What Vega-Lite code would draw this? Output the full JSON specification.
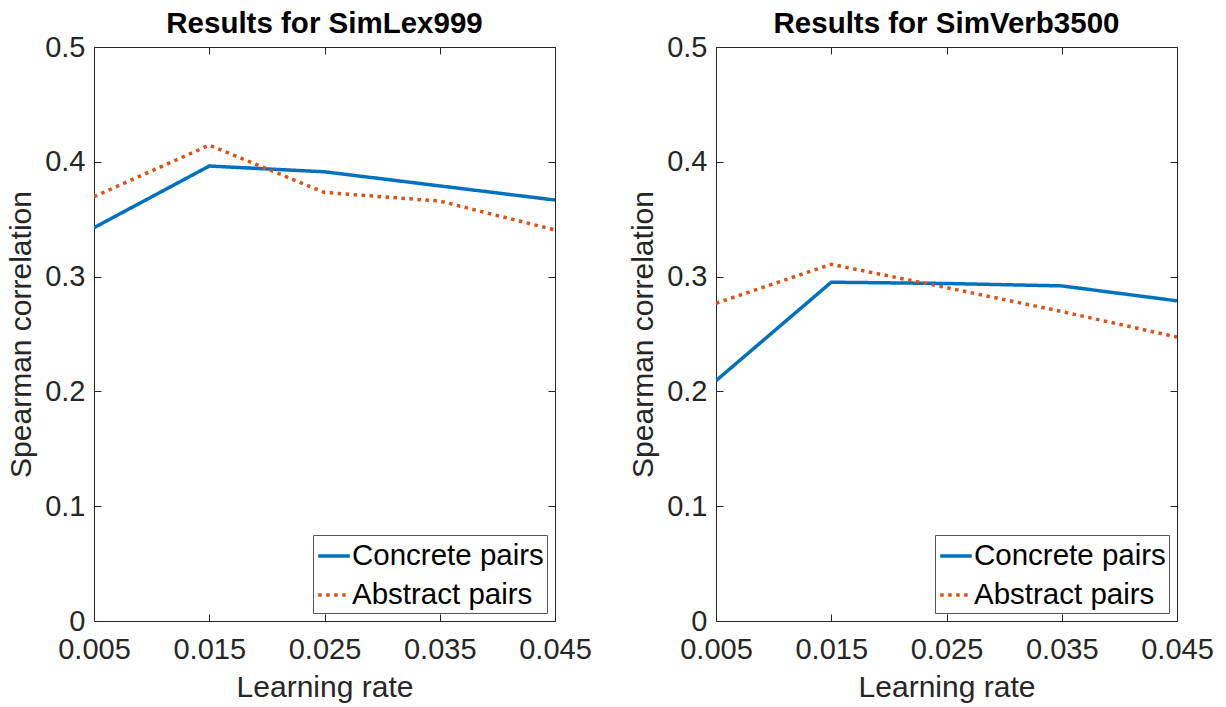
{
  "$schema": "https://vega.github.io/schema/vega-lite/v6.json",
  "padding": {"left": 6, "top": 8, "right": 0, "bottom": 0},
  "background": "white",
  "config": {
    "font": "Liberation Sans",
    "view": {"stroke": "#262626", "strokeWidth": 1},
    "axis": {"grid": false, "domain": false, "tickColor": "#262626", "labelColor": "#262626", "titleColor": "#262626", "labelFont": "Liberation Sans", "titleFont": "Liberation Sans", "labelFontSize": 29, "titleFontSize": 30, "titleFontWeight": "normal", "tickSize": -7},
    "title": {"font": "Liberation Sans", "fontSize": 29.5, "fontWeight": "bold", "color": "black", "offset": -6},
    "legend": {"labelFont": "Liberation Sans"}
  },
  "data": {"values": [
    {"dataset": "SimLex999", "series": "Concrete pairs", "rate": 0.005, "rho": 0.3426},
    {"dataset": "SimLex999", "series": "Concrete pairs", "rate": 0.015, "rho": 0.3963},
    {"dataset": "SimLex999", "series": "Concrete pairs", "rate": 0.025, "rho": 0.3913},
    {"dataset": "SimLex999", "series": "Concrete pairs", "rate": 0.035, "rho": 0.379},
    {"dataset": "SimLex999", "series": "Concrete pairs", "rate": 0.045, "rho": 0.3667},
    {"dataset": "SimLex999", "series": "Abstract pairs", "rate": 0.005, "rho": 0.3696},
    {"dataset": "SimLex999", "series": "Abstract pairs", "rate": 0.015, "rho": 0.4145},
    {"dataset": "SimLex999", "series": "Abstract pairs", "rate": 0.025, "rho": 0.3733},
    {"dataset": "SimLex999", "series": "Abstract pairs", "rate": 0.035, "rho": 0.3658},
    {"dataset": "SimLex999", "series": "Abstract pairs", "rate": 0.045, "rho": 0.3406},
    {"dataset": "SimVerb3500", "series": "Concrete pairs", "rate": 0.005, "rho": 0.2093},
    {"dataset": "SimVerb3500", "series": "Concrete pairs", "rate": 0.015, "rho": 0.2951},
    {"dataset": "SimVerb3500", "series": "Concrete pairs", "rate": 0.025, "rho": 0.294},
    {"dataset": "SimVerb3500", "series": "Concrete pairs", "rate": 0.035, "rho": 0.2919},
    {"dataset": "SimVerb3500", "series": "Concrete pairs", "rate": 0.045, "rho": 0.2789},
    {"dataset": "SimVerb3500", "series": "Abstract pairs", "rate": 0.005, "rho": 0.2768},
    {"dataset": "SimVerb3500", "series": "Abstract pairs", "rate": 0.015, "rho": 0.3107},
    {"dataset": "SimVerb3500", "series": "Abstract pairs", "rate": 0.025, "rho": 0.2904},
    {"dataset": "SimVerb3500", "series": "Abstract pairs", "rate": 0.035, "rho": 0.2696},
    {"dataset": "SimVerb3500", "series": "Abstract pairs", "rate": 0.045, "rho": 0.2473}
  ]},
  "spacing": 36,
  "resolve": {"legend": {"color": "independent", "strokeDash": "independent"}},
  "hconcat": [
    {
      "title": "Results for SimLex999",
      "width": 461,
      "height": 574,
      "transform": [{"filter": "datum.dataset === 'SimLex999'"}],
      "layer": [
        {
          "mark": {"type": "line", "strokeWidth": 3.5, "clip": true},
          "encoding": {
            "x": {"field": "rate", "type": "quantitative", "scale": {"domain": [0.005, 0.045], "nice": false, "zero": false}, "axis": {"title": "Learning rate", "values": [0.005, 0.015, 0.025, 0.035, 0.045], "format": ".3f", "labelPadding": 21, "titlePadding": 8, "labelFlush": false}},
            "y": {"field": "rho", "type": "quantitative", "scale": {"domain": [0, 0.5], "nice": false}, "axis": {"title": "Spearman correlation", "values": [0, 0.1, 0.2, 0.3, 0.4, 0.5], "labelExpr": "datum.value === 0 ? '0' : format(datum.value, '.1f')", "labelPadding": 16, "titlePadding": 8}},
            "color": {"field": "series", "type": "nominal", "scale": {"domain": ["Concrete pairs", "Abstract pairs"], "range": ["#0072BD", "#D95319"]}, "legend": {"title": null, "orient": "bottom-right", "offset": 8, "labelFontSize": 29.5, "labelLimit": 400, "labelColor": "black", "symbolType": "stroke", "symbolSize": 1000, "symbolStrokeWidth": 3.5, "strokeColor": "#555555", "fillColor": "white", "padding": 3, "rowPadding": 6, "labelOffset": 0}},
            "strokeDash": {"field": "series", "type": "nominal", "scale": {"domain": ["Concrete pairs", "Abstract pairs"], "range": [[1, 0], [3.5, 4.5]]}, "legend": {"title": null, "orient": "bottom-right", "offset": 8, "labelFontSize": 29.5, "labelLimit": 400, "labelColor": "black", "symbolType": "stroke", "symbolSize": 1000, "symbolStrokeWidth": 3.5, "strokeColor": "#555555", "fillColor": "white", "padding": 3, "rowPadding": 6, "labelOffset": 0}}
          }
        },
        {
          "mark": {"type": "line", "opacity": 0},
          "encoding": {
            "x": {"field": "rate", "type": "quantitative", "scale": {"domain": [0.005, 0.045], "nice": false, "zero": false}, "axis": {"orient": "top", "title": null, "labels": false, "values": [0.005, 0.015, 0.025, 0.035, 0.045]}},
            "y": {"field": "rho", "type": "quantitative", "scale": {"domain": [0, 0.5], "nice": false}, "axis": {"orient": "right", "title": null, "labels": false, "values": [0, 0.1, 0.2, 0.3, 0.4, 0.5]}},
            "detail": {"field": "series"}
          }
        }
      ],
      "resolve": {"scale": {"x": "independent", "y": "independent"}}
    },
    {
      "title": "Results for SimVerb3500",
      "width": 461,
      "height": 574,
      "transform": [{"filter": "datum.dataset === 'SimVerb3500'"}],
      "layer": [
        {
          "mark": {"type": "line", "strokeWidth": 3.5, "clip": true},
          "encoding": {
            "x": {"field": "rate", "type": "quantitative", "scale": {"domain": [0.005, 0.045], "nice": false, "zero": false}, "axis": {"title": "Learning rate", "values": [0.005, 0.015, 0.025, 0.035, 0.045], "format": ".3f", "labelPadding": 21, "titlePadding": 8, "labelFlush": false}},
            "y": {"field": "rho", "type": "quantitative", "scale": {"domain": [0, 0.5], "nice": false}, "axis": {"title": "Spearman correlation", "values": [0, 0.1, 0.2, 0.3, 0.4, 0.5], "labelExpr": "datum.value === 0 ? '0' : format(datum.value, '.1f')", "labelPadding": 16, "titlePadding": 8}},
            "color": {"field": "series", "type": "nominal", "scale": {"domain": ["Concrete pairs", "Abstract pairs"], "range": ["#0072BD", "#D95319"]}, "legend": {"title": null, "orient": "bottom-right", "offset": 8, "labelFontSize": 29.5, "labelLimit": 400, "labelColor": "black", "symbolType": "stroke", "symbolSize": 1000, "symbolStrokeWidth": 3.5, "strokeColor": "#555555", "fillColor": "white", "padding": 3, "rowPadding": 6, "labelOffset": 0}},
            "strokeDash": {"field": "series", "type": "nominal", "scale": {"domain": ["Concrete pairs", "Abstract pairs"], "range": [[1, 0], [3.5, 4.5]]}, "legend": {"title": null, "orient": "bottom-right", "offset": 8, "labelFontSize": 29.5, "labelLimit": 400, "labelColor": "black", "symbolType": "stroke", "symbolSize": 1000, "symbolStrokeWidth": 3.5, "strokeColor": "#555555", "fillColor": "white", "padding": 3, "rowPadding": 6, "labelOffset": 0}}
          }
        },
        {
          "mark": {"type": "line", "opacity": 0},
          "encoding": {
            "x": {"field": "rate", "type": "quantitative", "scale": {"domain": [0.005, 0.045], "nice": false, "zero": false}, "axis": {"orient": "top", "title": null, "labels": false, "values": [0.005, 0.015, 0.025, 0.035, 0.045]}},
            "y": {"field": "rho", "type": "quantitative", "scale": {"domain": [0, 0.5], "nice": false}, "axis": {"orient": "right", "title": null, "labels": false, "values": [0, 0.1, 0.2, 0.3, 0.4, 0.5]}},
            "detail": {"field": "series"}
          }
        }
      ],
      "resolve": {"scale": {"x": "independent", "y": "independent"}}
    }
  ]
}
